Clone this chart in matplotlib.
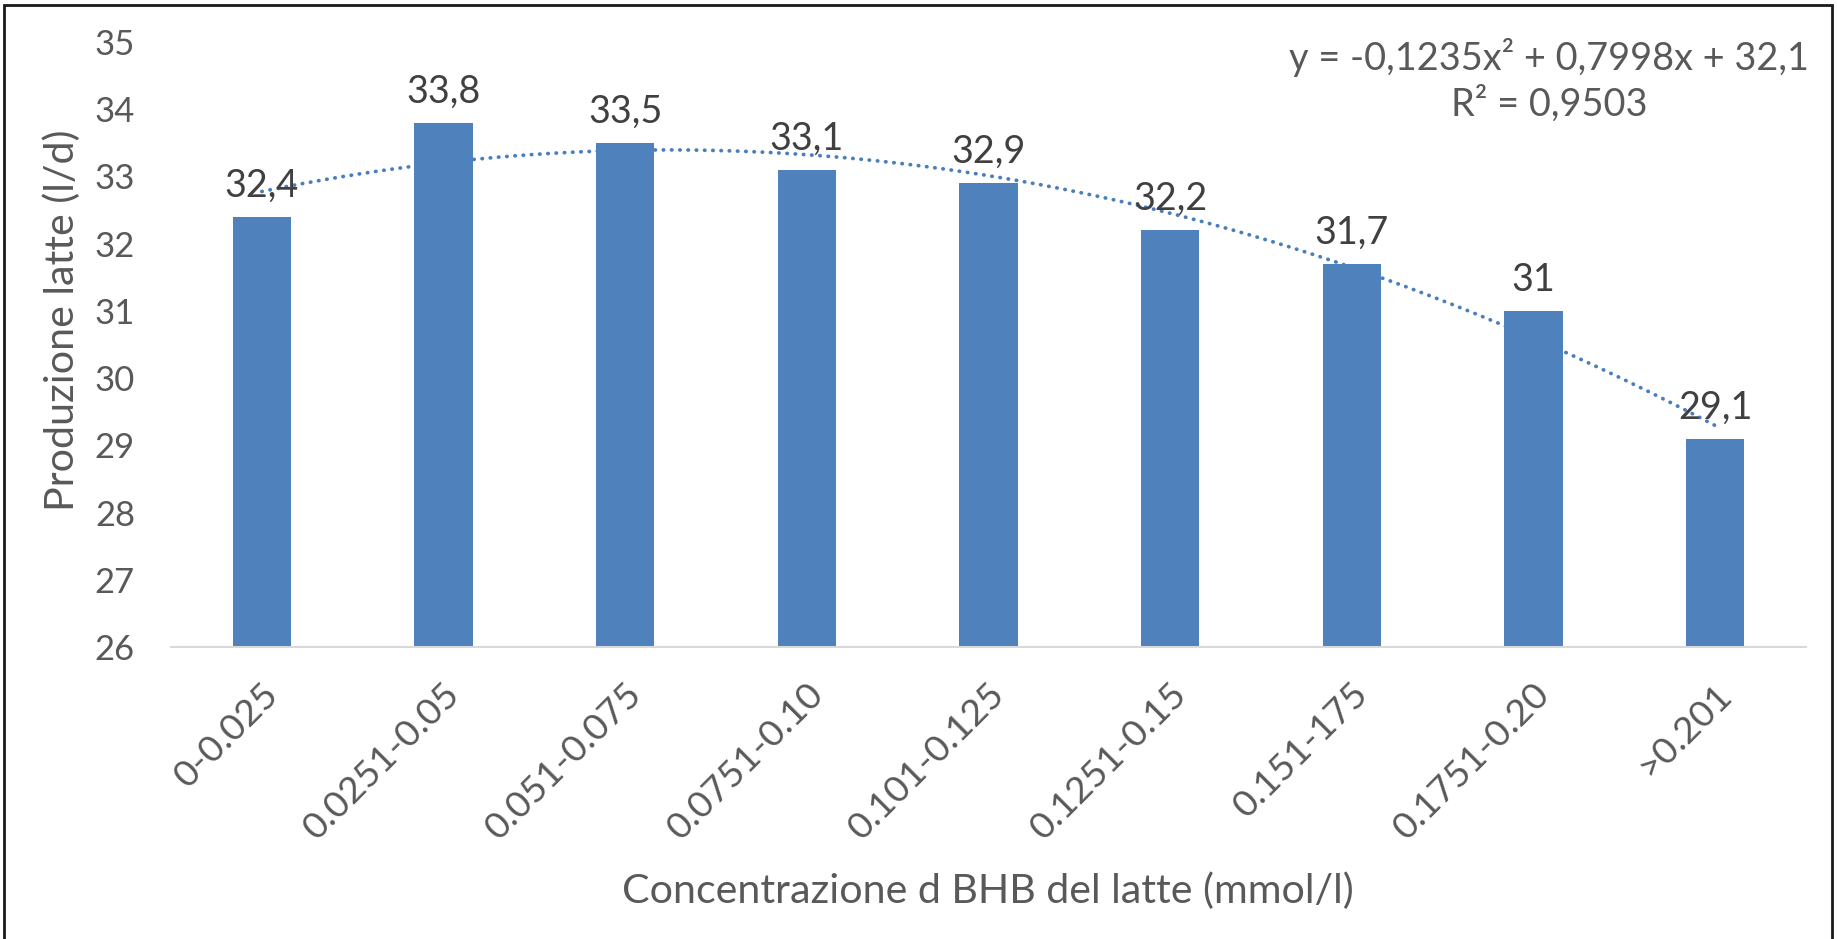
import numpy as np
import matplotlib
matplotlib.use("Agg")
import matplotlib.pyplot as plt
from matplotlib.patches import Rectangle
from matplotlib.transforms import ScaledTranslation

# ---- data ----
categories = ["0-0.025", "0.0251-0.05", "0.051-0.075", "0.0751-0.10", "0.101-0.125",
              "0.1251-0.15", "0.151-175", "0.1751-0.20", ">0.201"]
production = [32.4, 33.8, 33.5, 33.1, 32.9, 32.2, 31.7, 31.0, 29.1]
trend_coef = [-0.1235, 0.7998, 32.1]          # y = a x^2 + b x + c (x = 1..9)
equation_line1 = "y = -0,1235x² + 0,7998x + 32,1"
equation_line2 = "R² = 0,9503"
y_ticks = [26, 27, 28, 29, 30, 31, 32, 33, 34, 35]
x_title = "Concentrazione d BHB del latte (mmol/l)"
y_title = "Produzione latte (l/d)"

plt.rcParams['font.family'] = ['Lato', 'DejaVu Sans']

W, H = 1837, 939
fig = plt.figure(figsize=(W / 100, H / 100), dpi=100)
fig.patch.set_facecolor("white")
r = fig.canvas.get_renderer()

def fit(s, target_px):
    t = fig.text(0, 0, s, fontsize=20)
    w = t.get_window_extent(renderer=r).width
    t.remove()
    return 20 * target_px / w

fs_tick = fit("35", 40)
fs_xtick = fit("0.0251-0.05", 205)
fs_lab = fit("33,8", 74)
fs_title = fit(x_title, 732)
fs_eq = fit(equation_line1, 520)

grey = "#595959"
dark = "#404040"
blue = "#4F81BD"

left, right, top, bottom = 171, 1806, 42, 647
ax = fig.add_axes([left / W, 1 - bottom / H, (right - left) / W, (bottom - top) / H])

x = np.arange(len(categories))
ax.bar(x, production, width=0.32, color=blue, zorder=3)

xs = np.linspace(1, len(categories), 300)
ax.plot(xs - 1, np.polyval(trend_coef, xs), color="#4A7EBB", lw=2.7,
        linestyle=(0, (0.1, 2.1)), dash_capstyle="round", zorder=2)

for xi, v in zip(x, production):
    ax.annotate(f"{v:g}".replace(".", ","), (xi, v), xytext=(0, 14.5),
                textcoords="offset points", ha="center", va="baseline",
                fontsize=fs_lab, color=dark, zorder=5)

ax.set_xlim(-0.5, len(categories) - 0.5)
ax.set_ylim(26, 35)
ax.set_yticks(y_ticks)
ax.set_yticklabels([str(t) for t in y_ticks], fontsize=fs_tick, color=grey)
ax.set_xticks(x)
ax.set_xticklabels(categories, fontsize=fs_xtick, color=grey, rotation=45,
                   ha="right", va="center", rotation_mode="anchor")
ax.tick_params(axis="y", length=0, pad=26)
ax.tick_params(axis="x", length=0, pad=30)
shift = ScaledTranslation(11 / 100, 0, fig.dpi_scale_trans)
for lbl in ax.get_xticklabels():
    lbl.set_transform(lbl.get_transform() + shift)
for s in ["top", "right", "left"]:
    ax.spines[s].set_visible(False)
ax.spines["bottom"].set_color("#D9D9D9")
ax.spines["bottom"].set_linewidth(1.5)
ax.spines["bottom"].set_zorder(4)
ax.set_facecolor("none")

fig.text(988 / W, 1 - 903 / H, x_title, ha="center", va="baseline",
         fontsize=fs_title, color=grey)
fig.text(62 / W, 1 - 320 / H, y_title, ha="center", va="center", rotation=90,
         fontsize=fs_title, color=grey)

fig.text(1549 / W, 1 - 70 / H, equation_line1, ha="center", va="baseline",
         fontsize=fs_eq, color=grey)
fig.text(1549 / W, 1 - 116 / H, equation_line2, ha="center", va="baseline",
         fontsize=fs_eq, color=grey)

fig.patches.append(Rectangle((4 / W, -0.05), (1832 - 4) / W, 1.05 - 5 / H,
                             transform=fig.transFigure, fill=False,
                             edgecolor="#1a1a1a", lw=2.0))

fig.savefig("out.png", dpi=100, facecolor="white")
